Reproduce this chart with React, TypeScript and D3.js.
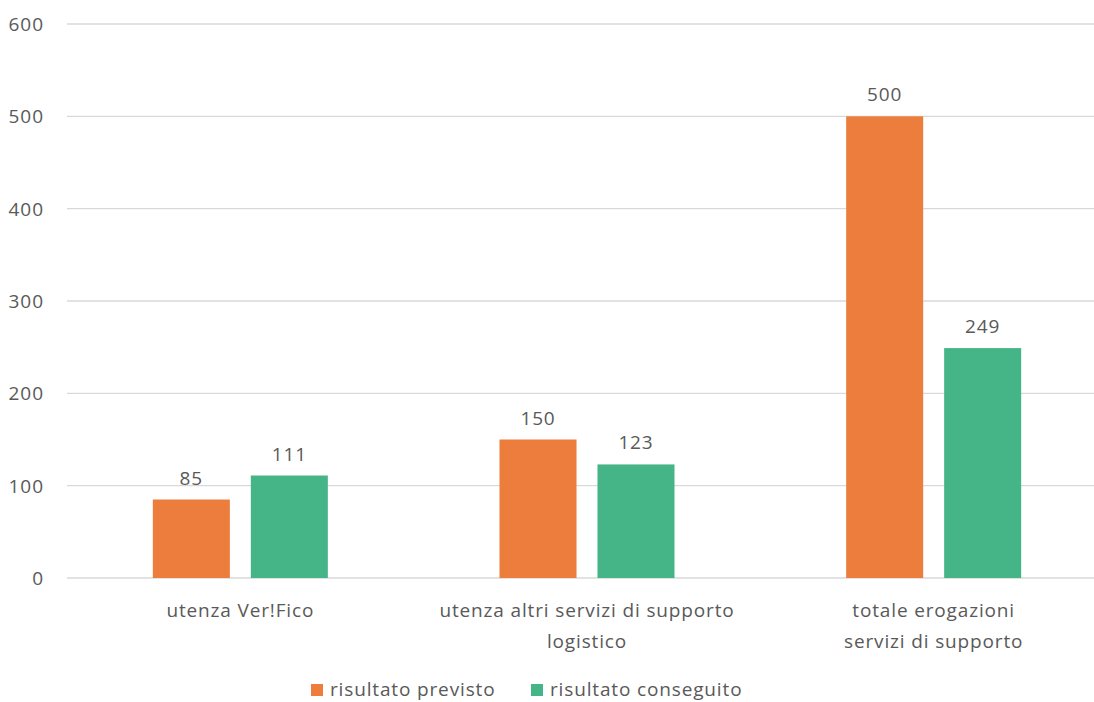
import * as d3 from "d3";

const categories = [
  ["utenza Ver!Fico"],
  ["utenza altri servizi di supporto", "logistico"],
  ["totale erogazioni", "servizi di supporto"],
];
const seriesNames = ["risultato previsto", "risultato conseguito"];
const previsto = [85, 150, 500];
const conseguito = [111, 123, 249];
const yTicks = [0, 100, 200, 300, 400, 500, 600];

const colors = ["#ED7D3D", "#45B487"];
const width = 1094;
const height = 702;
const font = "'Open Sans', 'Noto Sans', sans-serif";
const textColor = "#595959";
const fs = 19;
const ls = 0.85;

export default function App() {
  const x = d3.scaleBand<number>().domain([0, 1, 2]).range([67, 1107]);
  const inner = d3.scaleBand<number>().domain([0, 1]).range([0, 175]).paddingInner(0.214);
  const y = d3.scaleLinear().domain([0, 600]).range([578, 24]);
  const values = [previsto, conseguito];

  return (
    <svg
      width={width}
      height={height}
      style={{ position: "absolute", left: 0, top: 0, background: "#fff" }}
      fontFamily={font}
    >
      {yTicks.map((t) => (
        <g key={t}>
          <line x1={67} x2={width} y1={y(t)} y2={y(t)} stroke="#d9d9d9" strokeWidth={1.3} />
          <text x={44} y={y(t) + 7} textAnchor="end" fontSize={fs} letterSpacing={1} fill={textColor}>
            {t}
          </text>
        </g>
      ))}
      {categories.map((lines, i) => {
        const cx = (x(i) ?? 0) + x.bandwidth() / 2;
        return (
          <g key={i}>
            {values.map((vals, s) => {
              const bx = cx - 87.5 + (inner(s) ?? 0);
              return (
                <g key={s}>
                  <rect
                    x={bx}
                    y={y(vals[i])}
                    width={inner.bandwidth()}
                    height={y(0) - y(vals[i])}
                    fill={colors[s]}
                  />
                  <text
                    x={bx + inner.bandwidth() / 2}
                    y={y(vals[i]) - 15}
                    textAnchor="middle"
                    fontSize={fs}
                    letterSpacing={ls}
                    fill={textColor}
                  >
                    {vals[i]}
                  </text>
                </g>
              );
            })}
            {lines.map((l, k) => (
              <text
                key={k}
                x={cx}
                y={617 + k * 31}
                textAnchor="middle"
                fontSize={fs}
                letterSpacing={ls}
                fill={textColor}
              >
                {l}
              </text>
            ))}
          </g>
        );
      })}
      {seriesNames.map((n, s) => {
        const lx = s === 0 ? 311 : 531;
        return (
          <g key={n}>
            <rect x={lx} y={684} width={12} height={12} fill={colors[s]} />
            <text x={lx + 19} y={696} fontSize={fs} letterSpacing={ls} fill={textColor}>
              {n}
            </text>
          </g>
        );
      })}
    </svg>
  );
}
